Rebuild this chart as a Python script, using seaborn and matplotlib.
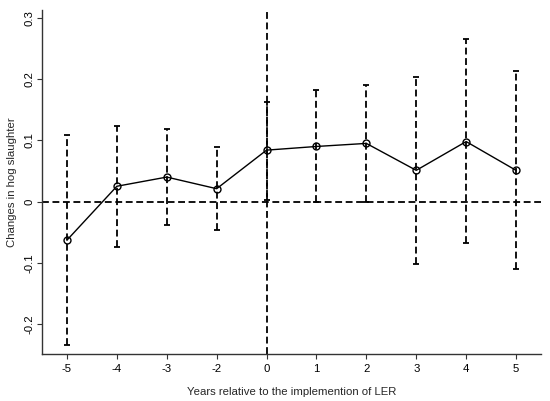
import numpy as np
import pandas as pd
import matplotlib
matplotlib.use("Agg")
import matplotlib.pyplot as plt
import seaborn as sns

# event-study estimates
years = ["-5", "-4", "-3", "-2", "0", "1", "2", "3", "4", "5"]
coef = [-0.063, 0.025, 0.040, 0.021, 0.084, 0.090, 0.095, 0.051, 0.098, 0.051]
ci_low = [-0.234, -0.075, -0.039, -0.046, 0.003, -0.001, -0.001, -0.102, -0.068, -0.110]
ci_high = [0.109, 0.124, 0.119, 0.089, 0.162, 0.182, 0.191, 0.204, 0.265, 0.213]
y_ticks = [-0.2, -0.1, 0.0, 0.1, 0.2, 0.3]
y_tick_labels = ["-0.2", "-0.1", "0", "0.1", "0.2", "0.3"]

sns.set_style("ticks")
plt.rcParams["font.family"] = ["Liberation Sans", "DejaVu Sans"]
plt.rcParams["axes.unicode_minus"] = False

df = pd.DataFrame({"year": years, "coef": coef, "lo": ci_low, "hi": ci_high})
df["pos"] = np.arange(len(df))

fig = plt.figure(figsize=(5.5, 4.01), dpi=100)
ax = fig.add_axes([0.0764, 0.1172, 0.9072, 0.858])

dash = (0, (3.8, 2.0))

# reference lines
ax.axhline(0, color="black", lw=1.3, linestyle=dash, zorder=1)
ax.axvline(df.loc[df["year"] == "0", "pos"].iloc[0], color="black", lw=1.3,
           linestyle=dash, zorder=1)

# confidence intervals
eb = ax.errorbar(df["pos"], df["coef"],
                 yerr=[df["coef"] - df["lo"], df["hi"] - df["coef"]],
                 fmt="none", ecolor="black", elinewidth=1.3, capsize=2,
                 capthick=1.3, zorder=2)
eb[2][0].set_linestyle(dash)

# point estimates
sns.lineplot(data=df, x="pos", y="coef", ax=ax, color="black", lw=1.0,
             marker="o", markersize=5, markerfacecolor="none",
             markeredgecolor="black", markeredgewidth=1.0, zorder=3)

ax.set_xlim(-0.5, 9.5)
ax.set_ylim(-0.249, 0.313)
ax.set_xticks(df["pos"])
ax.set_xticklabels(years)
ax.set_yticks(y_ticks)
ax.set_yticklabels(y_tick_labels, rotation=90, va="center")
ax.tick_params(axis="both", length=3.5, width=0.8, labelsize=8.2,
               colors="#333333", labelcolor="black")
ax.tick_params(axis="x", pad=4)
ax.tick_params(axis="y", pad=2)
for side in ["left", "bottom"]:
    ax.spines[side].set_linewidth(1.0)
    ax.spines[side].set_color("#333333")
sns.despine(ax=ax)

ax.set_xlabel("Years relative to the implemention of LER", fontsize=8.2, labelpad=9)
ax.set_ylabel("Changes in hog slaughter", fontsize=8.2, labelpad=5)

fig.savefig("out.png", dpi=100)
